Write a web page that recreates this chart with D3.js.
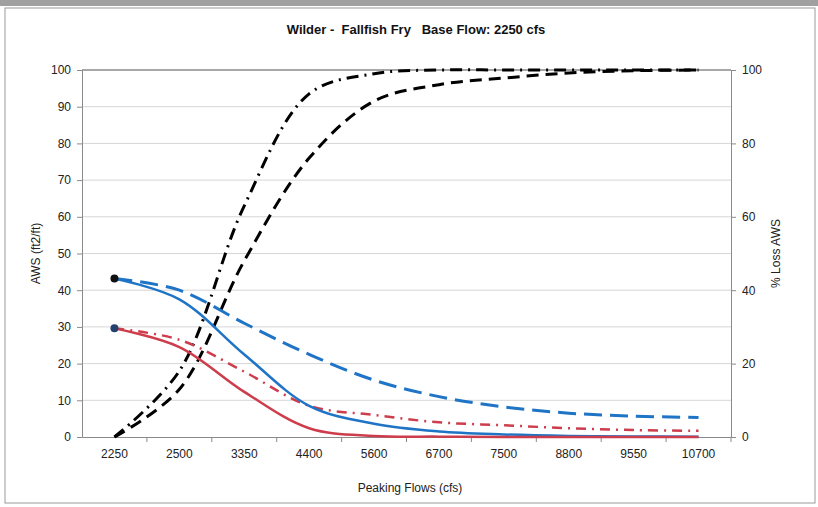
<!DOCTYPE html>
<html>
<head>
<meta charset="utf-8">
<script src="https://cdn.jsdelivr.net/npm/d3@7"></script>
<style>
  body { margin: 0; background: #fff; }
  text { font-family: "Liberation Sans", Arial, sans-serif; }
</style>
</head>
<body>
<div id="chart"></div>
<script>
// Constants
const W = 818;
const H = 507;
const MARGIN = { top: 70, right: 87, bottom: 70, left: 82 };
const BLUE = "#1f74c6";
const RED = "#cd3d4c";

// Data
const flows = ["2250", "2500", "3350", "4400", "5600", "6700", "7500", "8800", "9550", "10700"];
const awsBlue = [43.2, 37.5, 22.5, 8.5, 3.6, 1.5, 0.7, 0.3, 0.15, 0.1];
const awsRed = [29.6, 24.5, 12.3, 2.4, 0.3, 0.1, 0, 0, 0, 0];
const awsBlueDash = [43.2, 40, 31, 22.5, 15.5, 11, 8.2, 6.5, 5.7, 5.3];
const awsRedDashDot = [29.6, 26.5, 17.8, 8.5, 6, 4, 3.2, 2.4, 1.9, 1.7];
const lossDash = [0, 13, 48, 76, 91.5, 96, 97.8, 99.2, 99.8, 100];
const lossDashDot = [0, 18, 63, 93.5, 99, 100, 100, 100, 100, 100];
const leftTicks = d3.range(0, 101, 10);
const rightTicks = d3.range(0, 101, 20);

const series = [
  { values: lossDash, color: "#000", width: 3, dash: "12,7", axis: "right" },
  { values: lossDashDot, color: "#000", width: 3, dash: "12,6,2,6", axis: "right" },
  { values: awsBlueDash, color: BLUE, width: 3, dash: "18,8", axis: "left" },
  { values: awsRedDashDot, color: RED, width: 2.5, dash: "10,6,2,6", axis: "left" },
  { values: awsBlue, color: BLUE, width: 2.5, dash: null, axis: "left" },
  { values: awsRed, color: RED, width: 2.5, dash: null, axis: "left" }
];

const svg = d3.select("#chart")
  .append("svg")
  .attr("width", W)
  .attr("height", H);

// Outer frame
svg.append("rect").attr("x", 0).attr("y", 0).attr("width", W).attr("height", 6).attr("fill", "#a0a0a0");
svg.append("rect")
  .attr("x", 5).attr("y", 8)
  .attr("width", W - 8).attr("height", H - 12)
  .attr("fill", "none")
  .attr("stroke", "#9a9a9a");

// Scales
const x = d3.scaleBand()
  .domain(flows)
  .range([MARGIN.left, W - MARGIN.right]);

const yLeft = d3.scaleLinear()
  .domain([0, 100])
  .range([H - MARGIN.bottom, MARGIN.top]);

const yRight = d3.scaleLinear()
  .domain([0, 100])
  .range([H - MARGIN.bottom, MARGIN.top]);

// Gridlines
svg.append("g")
  .selectAll("line")
  .data(leftTicks.filter(d => d > 0))
  .join("line")
  .attr("x1", MARGIN.left)
  .attr("x2", W - MARGIN.right)
  .attr("y1", d => yLeft(d))
  .attr("y2", d => yLeft(d))
  .attr("stroke", d => d === 100 ? "#8a8a8a" : "#d6d6d6")
  .attr("stroke-width", d => d === 100 ? 1.5 : 1);

// Axes
const leftAxis = svg.append("g")
  .attr("transform", `translate(${MARGIN.left},0)`)
  .call(d3.axisLeft(yLeft).tickValues(leftTicks).tickSize(5).tickPadding(6));

const rightAxis = svg.append("g")
  .attr("transform", `translate(${W - MARGIN.right},0)`)
  .call(d3.axisRight(yRight).tickValues(rightTicks).tickSize(5).tickPadding(6));

const bottomAxis = svg.append("g")
  .attr("transform", `translate(0,${H - MARGIN.bottom})`)
  .call(d3.axisBottom(x).tickSize(0).tickPadding(12));

// Band-boundary ticks on the x axis
bottomAxis.append("g")
  .selectAll("line")
  .data(flows)
  .join("line")
  .attr("x1", d => x(d) + x.bandwidth())
  .attr("x2", d => x(d) + x.bandwidth())
  .attr("y1", 0)
  .attr("y2", 5)
  .attr("stroke", "#8a8a8a");

[leftAxis, rightAxis, bottomAxis].forEach(a => {
  a.select(".domain").attr("stroke", "#8a8a8a");
  a.selectAll(".tick line").attr("stroke", "#8a8a8a");
  a.selectAll("text")
    .attr("fill", "#222")
    .attr("font-size", "12px")
    .attr("font-family", "'Liberation Sans', Arial, sans-serif");
});

// Lines (smoothed like the spreadsheet original)
const cx = i => x(flows[i]) + x.bandwidth() / 2;

series.forEach(s => {
  const y = s.axis === "left" ? yLeft : yRight;
  const line = d3.line()
    .x((d, i) => cx(i))
    .y(d => y(d))
    .curve(d3.curveCatmullRom.alpha(0.5));
  svg.append("path")
    .datum(s.values)
    .attr("d", line)
    .attr("fill", "none")
    .attr("stroke", s.color)
    .attr("stroke-width", s.width)
    .attr("stroke-dasharray", s.dash);
});

// Start markers
svg.append("circle")
  .attr("cx", cx(0)).attr("cy", yLeft(awsBlue[0]))
  .attr("r", 4).attr("fill", "#111");
svg.append("circle")
  .attr("cx", cx(0)).attr("cy", yLeft(awsRed[0]))
  .attr("r", 4).attr("fill", "#23406e");

// Titles
svg.append("text")
  .attr("x", 416).attr("y", 34)
  .attr("text-anchor", "middle")
  .attr("font-size", "13px")
  .attr("font-weight", "bold")
  .attr("fill", "#111")
  .attr("xml:space", "preserve")
  .text("Wilder -  Fallfish Fry   Base Flow: 2250 cfs");

svg.append("text")
  .attr("transform", `translate(40,${yLeft(50)}) rotate(-90)`)
  .attr("text-anchor", "middle")
  .attr("font-size", "12px")
  .attr("fill", "#222")
  .text("AWS (ft2/ft)");

svg.append("text")
  .attr("transform", `translate(780,${yRight(50)}) rotate(-90)`)
  .attr("text-anchor", "middle")
  .attr("font-size", "12px")
  .attr("fill", "#222")
  .text("% Loss AWS");

svg.append("text")
  .attr("x", 410).attr("y", 492)
  .attr("text-anchor", "middle")
  .attr("font-size", "12px")
  .attr("fill", "#222")
  .text("Peaking Flows (cfs)");
</script>
</body>
</html>
